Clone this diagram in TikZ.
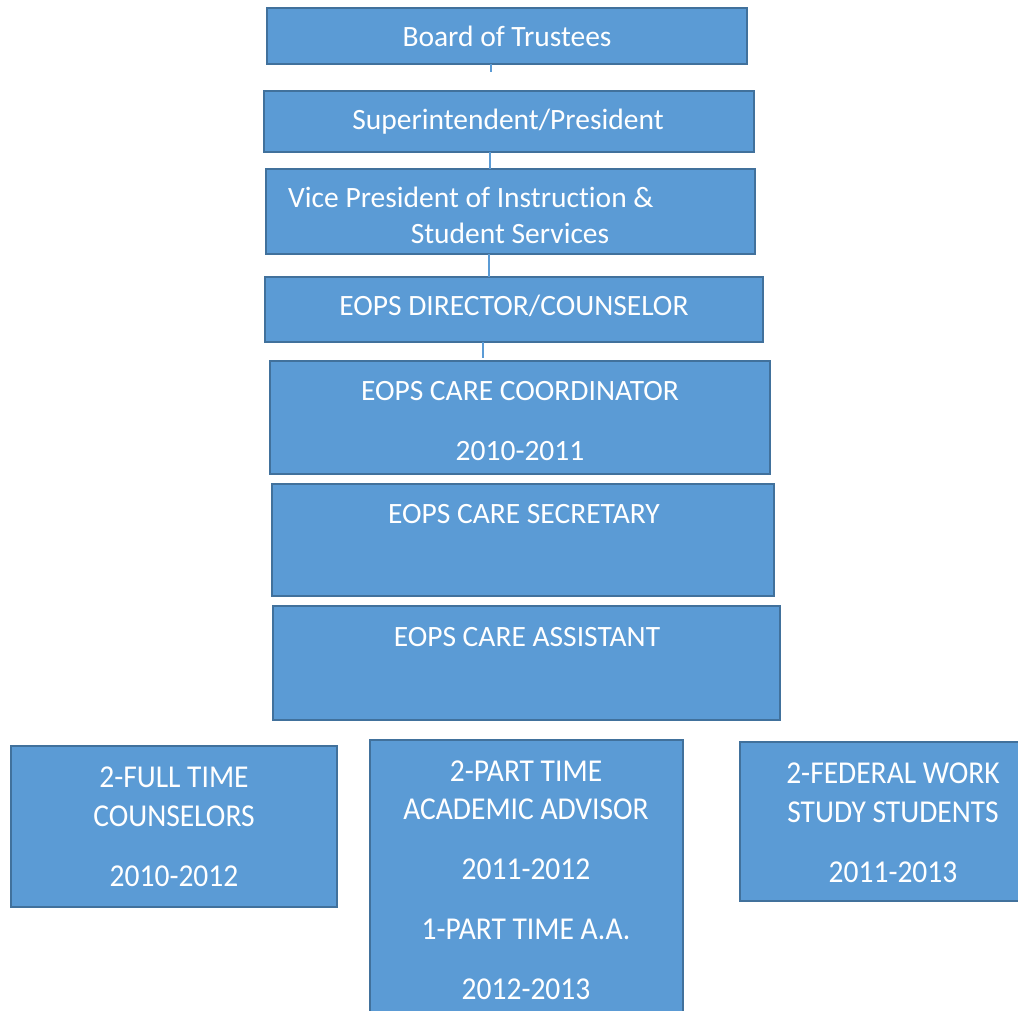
\documentclass[tikz,border=0pt]{standalone}
\usepackage{fontspec}
\setmainfont[Ligatures={NoCommon}]{Carlito}
\definecolor{boxfill}{HTML}{5B9BD5}
\definecolor{boxline}{HTML}{41719C}
\begin{document}
\begin{tikzpicture}[x=1pt,y=-1pt,
  box/.style={draw=boxline,line width=2.8pt,fill=boxfill},
  lbl/.style={text=white,font=\fontsize{29.5}{34}\selectfont,inner sep=0pt,anchor=base},
  slbl/.style={text=white,font=\fontsize{29.5}{34}\selectfont,inner sep=0pt,anchor=base,yscale=1.08},
  conn/.style={draw=boxfill,line width=1.8pt}]
\useasboundingbox (0,0) rectangle (1018,1011);
\clip (0,0) rectangle (1018,1011);
% boxes
\draw[box] (267,8) rectangle (747,64);
\draw[box] (264,91) rectangle (754,152);
\draw[box] (266,169) rectangle (755,254);
\draw[box] (265,277) rectangle (763,342);
\draw[box] (270,361) rectangle (770,474);
\draw[box] (272,484) rectangle (774,596);
\draw[box] (273,606) rectangle (780,720);
\draw[box] (11,746) rectangle (337,907);
\draw[box] (370,740) rectangle (683,1030);
\draw[box] (740,742) rectangle (1040,901);
% connectors
\coordinate (c1a) at (491,64); \coordinate (c1b) at (491,72);
\coordinate (c2a) at (490,152); \coordinate (c2b) at (490,169);
\coordinate (c3a) at (489,254); \coordinate (c3b) at (489,277);
\coordinate (c4a) at (483,342); \coordinate (c4b) at (483,358);
\draw[conn] (c1a) -- (c1b);
\draw[conn] (c2a) -- (c2b);
\draw[conn] (c3a) -- (c3b);
\draw[conn] (c4a) -- (c4b);
% labels
\node[lbl] (t1) at (507,47) {Board of Trustees};
\node[lbl] (t2) at (508,130) {Superintendent/President};
\node[lbl,anchor=base west] (t3a) at (288,208) {Vice President of Instruction \&};
\node[lbl] (t3b) at (510,244) {Student Services};
\node[lbl] (t4) at (514,316) {EOPS DIRECTOR/COUNSELOR};
\node[lbl] (t5a) at (520,400) {EOPS CARE COORDINATOR};
\node[lbl] (t5b) at (520,460) {2010-2011};
\node[lbl] (t6) at (524,523) {EOPS CARE SECRETARY};
\node[lbl] (t7) at (527,646) {EOPS CARE ASSISTANT};
\node[slbl] (t8a) at (174,787) {2-FULL TIME};
\node[slbl] (t8b) at (174,826) {COUNSELORS};
\node[slbl] (t8c) at (174,886) {2010-2012};
\node[slbl] (t9a) at (526,781) {2-PART TIME};
\node[slbl] (t9b) at (526,819) {ACADEMIC ADVISOR};
\node[slbl] (t9c) at (526,879) {2011-2012};
\node[slbl] (t9d) at (526,939) {1-PART TIME A.A.};
\node[slbl] (t9e) at (526,999) {2012-2013};
\node[slbl] (t10a) at (893,783) {2-FEDERAL WORK};
\node[slbl] (t10b) at (893,822) {STUDY STUDENTS};
\node[slbl] (t10c) at (893,882) {2011-2013};
\end{tikzpicture}
\end{document}
